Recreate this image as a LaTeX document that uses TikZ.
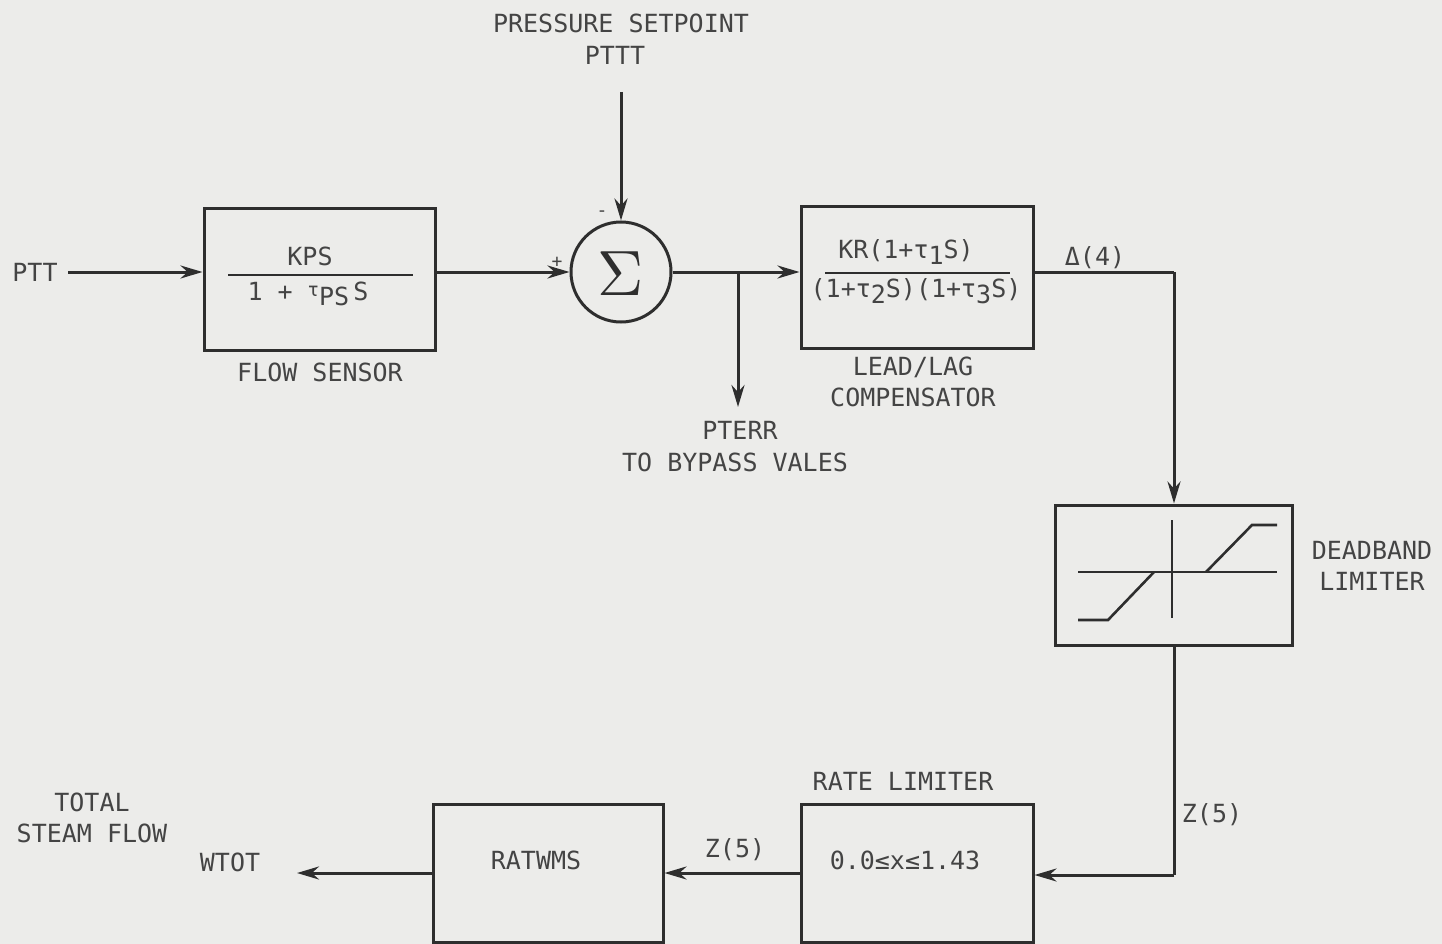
\documentclass[tikz,border=0pt]{standalone}
\usepackage{fontspec}
\newfontfamily\tw{DejaVu Sans Mono}
\usetikzlibrary{arrows.meta}
\definecolor{bgc}{HTML}{ECECEA}
\definecolor{ink}{HTML}{2E2E2E}
\definecolor{txt}{HTML}{444444}
\tikzset{
  blk/.style={draw=ink, line width=3pt, rectangle, inner sep=0pt},
  lbl/.style={text=txt, font=\tw\fontsize{25}{31}\selectfont, inner sep=0pt, align=center},
  sml/.style={text=txt, font=\tw\fontsize{18}{20}\selectfont, inner sep=0pt},
  conn/.style={draw=ink, line width=3pt},
  arr/.style={conn, -{Stealth[length=22pt,width=13pt]}},
  fracline/.style={draw=ink, line width=2.4pt},
  thin/.style={draw=ink, line width=2.6pt}
}
\begin{document}
\begin{tikzpicture}[x=1pt,y=-1pt]
\fill[bgc] (0,0) rectangle (1442,944);
\useasboundingbox (0,0) rectangle (1442,944);

% blocks
\node[blk, minimum width=231pt, minimum height=142pt] (fs) at (319.5,279) {};
\node[draw=ink, line width=3pt, circle, minimum size=100pt, inner sep=0pt] (sum) at (621,272) {};
\node[blk, minimum width=232pt, minimum height=142pt] (ll) at (917,277) {};
\node[blk, minimum width=237pt, minimum height=140pt] (dl) at (1174,575) {};
\node[blk, minimum width=232pt, minimum height=138pt] (rl) at (917,873) {};
\node[blk, minimum width=230pt, minimum height=138pt] (rw) at (548,873) {};

% block contents
\node[lbl] (kps) at (310,256) {KPS};
\coordinate (fsl1) at (228,275);
\coordinate (fsl2) at (413,275);
\draw[fracline] (fsl1) -- (fsl2);
\node[lbl] (fsden) at (308,294) {1 + \raisebox{4pt}{\fontsize{19}{20}\selectfont τ}\raisebox{-5pt}{PS}\,S};

\node[text=ink, inner sep=0pt] (sig) at (621,274) {\scalebox{6.4}{$\Sigma$}};

\node[lbl] (llnum) at (906,252) {KR(1+τ\raisebox{-6pt}{1}S)};
\coordinate (lll1) at (825,273);
\coordinate (lll2) at (1010,273);
\draw[fracline] (lll1) -- (lll2);
\node[lbl] (llden) at (916,291) {(1+τ\raisebox{-6pt}{2}S)(1+τ\raisebox{-6pt}{3}S)};

\node[lbl] (rlt) at (905,860) {0.0≤x≤1.43};
\node[lbl] (rwt) at (536,860) {RATWMS};

% deadband characteristic
\coordinate (ax1) at (1078,572);
\coordinate (ax2) at (1277,572);
\coordinate (ay1) at (1172,520);
\coordinate (ay2) at (1172,618);
\draw[thin] (ax1) -- (ax2);
\draw[thin] (ay1) -- (ay2);
\coordinate (c1) at (1078,620);
\coordinate (c2) at (1108,620);
\coordinate (c3) at (1154,572);
\coordinate (c4) at (1206,572);
\coordinate (c5) at (1252,525);
\coordinate (c6) at (1277,525);
\draw[thin] (c1) -- (c2) -- (c3);
\draw[thin] (c4) -- (c5) -- (c6);

% labels
\node[lbl] (ptt) at (35,272) {PTT};
\node[lbl] (setp) at (621,23) {PRESSURE SETPOINT};
\node[lbl] (pttt) at (615,55) {PTTT};
\node[lbl] (fsl) at (320,372) {FLOW SENSOR};
\node[lbl] (lll) at (913,382) {LEAD/LAG\\COMPENSATOR};
\node[lbl] (pterr) at (740,430) {PTERR};
\node[lbl] (byp) at (735,462) {TO BYPASS VALES};
\node[lbl] (dlt) at (1372,566) {DEADBAND\\LIMITER};
\node[lbl] (rlab) at (903,781) {RATE LIMITER};
\node[lbl] (tsf) at (92,818) {TOTAL\\STEAM FLOW};
\node[lbl] (wtot) at (230,862) {WTOT};
\node[lbl] (d4) at (1095,258) {Δ(4)};
\node[lbl] (z5a) at (1212,815) {Z(5)};
\node[lbl] (z5b) at (735,850) {Z(5)};
\node[sml] (plus) at (557,262) {+};
\node[sml] (minus) at (602,214) {-};

% connectors
\coordinate (pttend) at (68,272);
\draw[arr] (pttend) -- (fs.west |- pttend);
\draw[arr] (fs.east |- sum.west) -- (sum.west);
\coordinate (sptop) at (621,92);
\draw[arr] (sptop) -- (sum.north);
\draw[arr] (sum.east) -- (ll.west |- sum.east);
\coordinate (br) at (738,272);
\coordinate (brend) at (738,407);
\draw[arr] (br) -- (brend);
\draw[conn] (ll.east |- br) -- (1174,272);
\coordinate (turn1) at (1174,272);
\draw[arr] (turn1) -- (dl.north);
\coordinate (turn2) at (1174,875);
\draw[conn] (dl.south) -- (turn2);
\draw[arr] (turn2) -- (rl.east |- turn2);
\draw[arr] (rl.west) -- (rw.east);
\coordinate (wend) at (297,873);
\draw[arr] (rw.west) -- (wend);
\end{tikzpicture}
\end{document}
